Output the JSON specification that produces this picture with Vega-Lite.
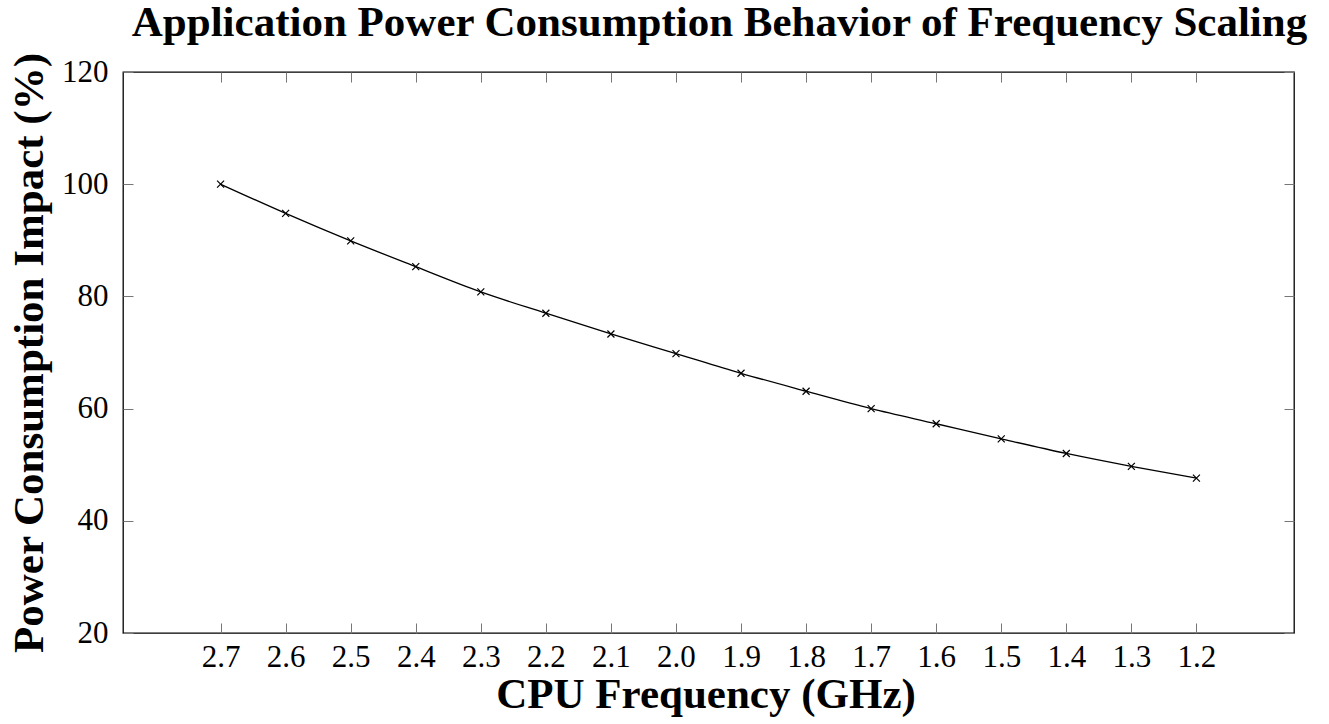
{
  "$schema": "https://vega.github.io/schema/vega-lite/v6.json",
  "autosize": {"type": "none"},
  "padding": {"left": 123, "top": 72, "right": 35, "bottom": 91},
  "width": 1171,
  "height": 561,
  "background": "white",
  "title": {
    "text": "Application Power Consumption Behavior of Frequency Scaling",
    "font": "Liberation Serif",
    "fontSize": 43,
    "fontWeight": "bold",
    "color": "black",
    "anchor": "middle",
    "baseline": "alphabetic",
    "offset": 37,
    "dx": 11,
    "dy": 64,
    "frame": "group"
  },
  "data": {
    "values": [
      {"frequency": 2.7, "power": 100.0},
      {"frequency": 2.6, "power": 94.8},
      {"frequency": 2.5, "power": 89.9},
      {"frequency": 2.4, "power": 85.3},
      {"frequency": 2.3, "power": 80.8},
      {"frequency": 2.2, "power": 77.0},
      {"frequency": 2.1, "power": 73.3},
      {"frequency": 2.0, "power": 69.8},
      {"frequency": 1.9, "power": 66.3},
      {"frequency": 1.8, "power": 63.1},
      {"frequency": 1.7, "power": 60.0},
      {"frequency": 1.6, "power": 57.3},
      {"frequency": 1.5, "power": 54.6},
      {"frequency": 1.4, "power": 52.0},
      {"frequency": 1.3, "power": 49.7},
      {"frequency": 1.2, "power": 47.6}
    ]
  },
  "layer": [
    {
      "mark": {"type": "line", "color": "black", "strokeWidth": 1.3, "interpolate": "monotone"},
      "encoding": {
        "x": {
          "field": "frequency",
          "type": "quantitative",
          "scale": {"domain": [1.05, 2.85], "reverse": true, "nice": false, "zero": false},
          "axis": {
            "orient": "bottom",
            "values": [1.2, 1.3, 1.4, 1.5, 1.6, 1.7, 1.8, 1.9, 2.0, 2.1, 2.2, 2.3, 2.4, 2.5, 2.6, 2.7],
            "format": ".1f",
            "tickSize": -10,
            "labelPadding": 19,
            "labelFlush": false,
            "labelOverlap": false,
            "title": "CPU Frequency (GHz)",
            "titleX": 582.5,
            "titleY": 74,
            "titleBaseline": "alphabetic",
            "titleAnchor": "middle"
          }
        },
        "y": {
          "field": "power",
          "type": "quantitative",
          "scale": {"domain": [20, 120], "nice": false, "zero": false},
          "axis": {
            "orient": "left",
            "values": [20, 40, 60, 80, 100, 120],
            "tickSize": -10,
            "labelPadding": 25,
            "labelFlush": false,
            "labelOverlap": false,
            "title": "Power Consumption Impact (%)",
            "titleX": -81,
            "titleY": 280.5,
            "titleAngle": -90,
            "titleBaseline": "alphabetic",
            "titleAnchor": "middle"
          }
        }
      }
    },
    {
      "mark": {"type": "point", "shape": "M-1,-1L1,1M-1,1L1,-1", "size": 49, "filled": false, "color": "black", "strokeWidth": 1.2, "opacity": 1},
      "encoding": {
        "x": {
          "field": "frequency",
          "type": "quantitative",
          "axis": {
            "orient": "top",
            "values": [1.2, 1.3, 1.4, 1.5, 1.6, 1.7, 1.8, 1.9, 2.0, 2.1, 2.2, 2.3, 2.4, 2.5, 2.6, 2.7],
            "tickSize": -10,
            "labels": false,
            "title": null
          }
        },
        "y": {
          "field": "power",
          "type": "quantitative",
          "axis": {
            "orient": "right",
            "values": [20, 40, 60, 80, 100, 120],
            "tickSize": -10,
            "labels": false,
            "title": null
          }
        }
      }
    }
  ],
  "resolve": {"axis": {"x": "independent", "y": "independent"}},
  "config": {
    "view": {"stroke": "black", "strokeWidth": 1.3},
    "axis": {
      "domain": false,
      "grid": false,
      "tickColor": "#777777",
      "tickWidth": 1,
      "labelFont": "Liberation Serif",
      "labelFontSize": 31,
      "labelColor": "black",
      "titleFont": "Liberation Serif",
      "titleFontSize": 43,
      "titleFontWeight": "bold",
      "titleColor": "black"
    }
  }
}
